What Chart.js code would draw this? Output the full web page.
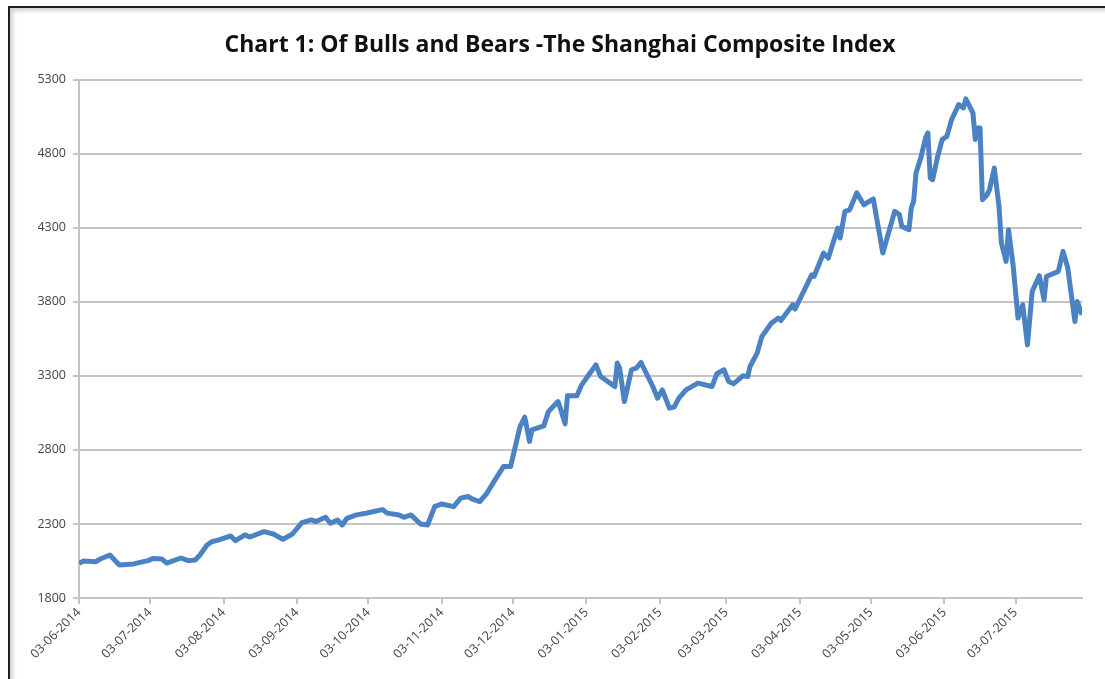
<!DOCTYPE html>
<html>
<head>
<meta charset="utf-8">
<script src="https://cdn.jsdelivr.net/npm/chart.js@4"></script>
<style>
  body { margin: 0; background: #fff; }
  #wrap { position: absolute; left: 0; top: 0; width: 1105px; height: 679px; }
  #frame {
    position: absolute; left: 8px; top: 6px; width: 1097px; height: 673px;
    border-top: 2px solid #1e1e1e; border-left: 2px solid #1e1e1e;
    box-shadow: inset 3px 3px 4px rgba(0,0,0,0.18);
    pointer-events: none;
  }
</style>
</head>
<body>
<div id="wrap"><canvas id="chart" width="1105" height="679"></canvas></div>
<div id="frame"></div>
<script>
// days counted from 03-06-2014
const days = [0, 2, 7, 9, 13, 15, 17, 23, 29, 31, 35, 37, 43, 46, 49, 51, 54, 56, 59, 64,
  66, 70, 72, 78, 82, 86, 90, 94, 98, 100, 104, 106, 109, 111, 113, 117, 121, 128, 130, 135,
  137, 140, 144, 147, 150, 153, 158, 161, 164, 166, 169, 172, 175, 179, 182, 186, 188, 190, 191, 196,
  198, 202, 203, 205, 206, 210, 212, 215, 218, 220, 225, 226, 227, 228, 230, 233, 235, 237, 242, 244,
  246, 249, 251, 253, 256, 261, 267, 269, 272, 274, 276, 280, 282, 283, 286, 288, 292, 295, 296, 301,
  302, 309, 310, 314, 316, 320, 321, 323, 325, 328, 331, 335, 339, 344, 346, 347, 350, 351, 352, 353,
  355, 357, 358, 359, 360, 362, 364, 366, 368, 371, 373, 374, 377, 378, 379, 380, 381, 383, 384, 386,
  388, 389, 391, 392, 394, 396, 398, 400, 402, 405, 407, 408, 413, 415, 417, 420, 421, 423];
const closes = [2034, 2050, 2045, 2063, 2090, 2057, 2023, 2030, 2052, 2066, 2063, 2036, 2070, 2052, 2057, 2090, 2158, 2180, 2192, 2219,
  2187, 2226, 2212, 2248, 2232, 2196, 2232, 2309, 2327, 2316, 2345, 2305, 2327, 2293, 2338, 2361, 2372, 2397, 2373, 2361,
  2345, 2361, 2300, 2293, 2417, 2435, 2417, 2474, 2485, 2467, 2451, 2507, 2586, 2687, 2687, 2957, 3021, 2856, 2935, 2962,
  3059, 3126, 3082, 2976, 3165, 3165, 3239, 3307, 3374, 3295, 3239, 3228, 3386, 3352, 3126, 3341, 3352, 3390, 3228, 3149,
  3205, 3082, 3089, 3149, 3205, 3251, 3228, 3314, 3341, 3262, 3246, 3300, 3295, 3363, 3453, 3566, 3656, 3690, 3674, 3780,
  3751, 3982, 3971, 4129, 4095, 4298, 4230, 4410, 4421, 4535, 4455, 4494, 4129, 4410, 4388, 4309, 4287, 4433, 4478, 4670,
  4771, 4906, 4940, 4636, 4624, 4771, 4895, 4917, 5030, 5131, 5109, 5170, 5075, 4895, 4974, 4974, 4489, 4523, 4557, 4703,
  4444, 4197, 4073, 4287, 4039, 3690, 3780, 3509, 3870, 3976, 3814, 3971, 4005, 4140, 4028, 3667, 3802, 3712];

const tickDays = [0, 30, 61, 92, 122, 153, 183, 214, 245, 273, 304, 334, 365, 395];
const tickLabels = ['03-06-2014', '03-07-2014', '03-08-2014', '03-09-2014', '03-10-2014', '03-11-2014',
  '03-12-2014', '03-01-2015', '03-02-2015', '03-03-2015', '03-04-2015', '03-05-2015', '03-06-2015', '03-07-2015'];

const tickFont = { family: 'Open Sans', size: 12.5 };

new Chart(document.getElementById('chart'), {
  type: 'line',
  data: {
    datasets: [{
      label: 'Shanghai Composite',
      data: days.map((d, i) => ({ x: d, y: closes[i] })),
      borderColor: '#4b82c3',
      borderWidth: 5,
      pointRadius: 0,
      tension: 0,
      borderJoinStyle: 'round'
    }]
  },
  options: {
    responsive: false,
    animation: false,
    layout: { padding: { left: 38, right: 23, top: 0, bottom: 0 } },
    plugins: {
      legend: { display: false },
      tooltip: { enabled: false },
      title: {
        display: true,
        text: 'Chart 1: Of Bulls and Bears -The Shanghai Composite Index',
        color: '#111',
        font: { family: 'Open Sans', size: 23, weight: 'bold' },
        padding: { top: 32, bottom: 20 }
      }
    },
    scales: {
      x: {
        type: 'linear',
        min: 0,
        max: 423,
        afterBuildTicks: function(scale) {
          scale.ticks = tickDays.map(v => ({ value: v }));
        },
        afterFit: function(scale) { scale.height = 81; },
        grid: {
          drawOnChartArea: false,
          drawTicks: true,
          tickLength: 6,
          color: '#c4c4c4',
          lineWidth: 2
        },
        border: { display: true, color: '#c4c4c4', width: 2 },
        ticks: {
          autoSkip: false,
          minRotation: 45,
          maxRotation: 45,
          padding: 1,
          color: '#444',
          font: tickFont,
          callback: function(value) {
            const i = tickDays.indexOf(value);
            return i >= 0 ? tickLabels[i] : '';
          }
        }
      },
      y: {
        min: 1800,
        max: 5300,
        afterFit: function(scale) { scale.width = 41; },
        grid: {
          color: '#c4c4c4',
          lineWidth: 2,
          tickLength: 6
        },
        border: { display: true, color: '#c4c4c4', width: 2 },
        ticks: {
          stepSize: 500,
          padding: 7,
          color: '#444',
          font: tickFont,
          callback: function(value) { return String(value); }
        }
      }
    }
  }
});
</script>
</body>
</html>
